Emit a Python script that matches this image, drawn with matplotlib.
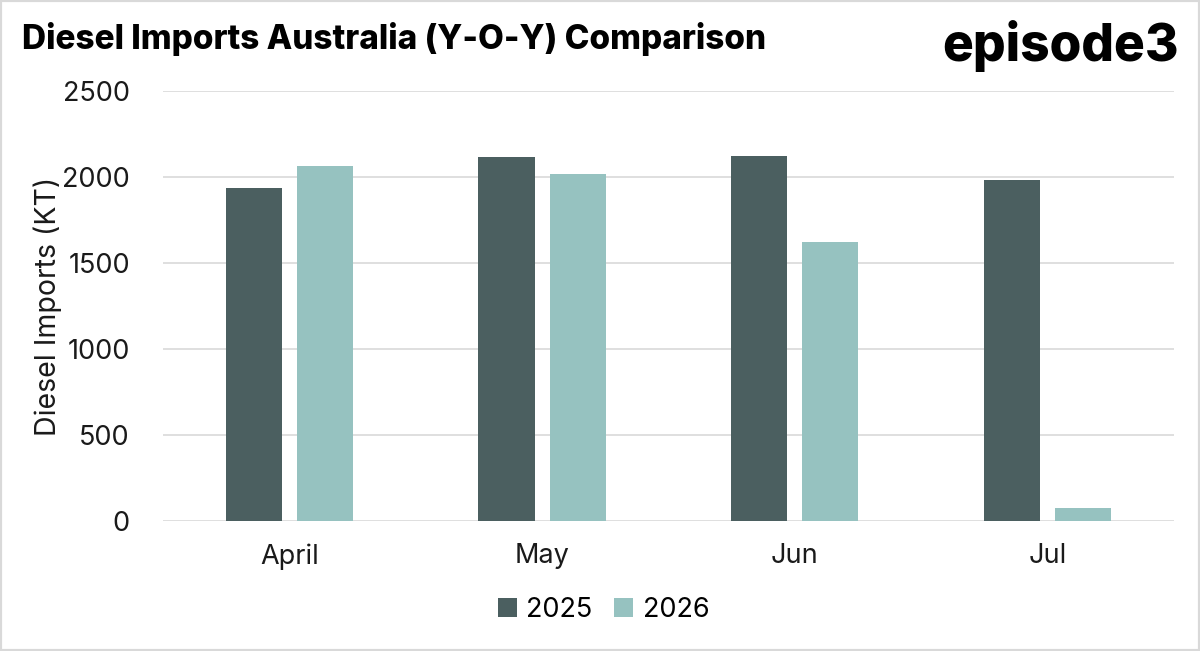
import numpy as np
import matplotlib.pyplot as plt
from matplotlib.patches import Rectangle

# data
months = ["April", "May", "Jun", "Jul"]
imports_2025 = [1938, 2116, 2122, 1981]
imports_2026 = [2064, 2017, 1624, 72]
yticks = [0, 500, 1000, 1500, 2000, 2500]

dark = "#4B5F60"
light = "#96C2C0"

plt.rcParams["font.family"] = ["Inter", "DejaVu Sans"]

fig = plt.figure(figsize=(12, 6.51), dpi=100)
ax = fig.add_axes([0.136, 0.2, 0.842, 0.66])

x = np.arange(len(months))
w = 0.222
off = 0.141
ax.bar(x - off, imports_2025, w, color=dark, label="2025", zorder=3)
ax.bar(x + off, imports_2026, w, color=light, label="2026", zorder=3)

ax.set_xlim(-0.5, len(months) - 0.5)
ax.set_ylim(0, 2500)
ax.set_yticks(yticks)
ax.set_xticks(x)
ax.set_xticklabels(months)
ax.tick_params(axis="both", length=0, labelsize=19.5, colors="#1a1a1a")
ax.tick_params(axis="y", pad=24)
ax.tick_params(axis="x", pad=16)
ax.grid(axis="y", color="#D9D9D9", linewidth=1.2, zorder=0)
for s in ax.spines.values():
    s.set_visible(False)
ax.set_ylabel("Diesel Imports (KT)", fontsize=20.5, color="#1a1a1a", labelpad=0)

# legend is centred on the figure, not on the axes
fig.legend(*ax.get_legend_handles_labels(), loc="center", bbox_to_anchor=(0.503, 0.063),
           ncol=2, frameon=False, fontsize=19.5, handlelength=0.7, handleheight=0.7,
           handletextpad=0.35, columnspacing=0.8)

fig.text(0.018, 0.94, "Diesel Imports Australia (Y-O-Y) Comparison", fontsize=24,
         fontweight="heavy", color="black", va="center")
fig.text(0.982, 0.93, "episode3", fontsize=37, fontweight="heavy", color="black",
         va="center", ha="right")

fig.patches.append(Rectangle((0, 0), 1, 1, transform=fig.transFigure, fill=False,
                             edgecolor="#D9D9D9", linewidth=3))

fig.savefig("out.png", dpi=100)
